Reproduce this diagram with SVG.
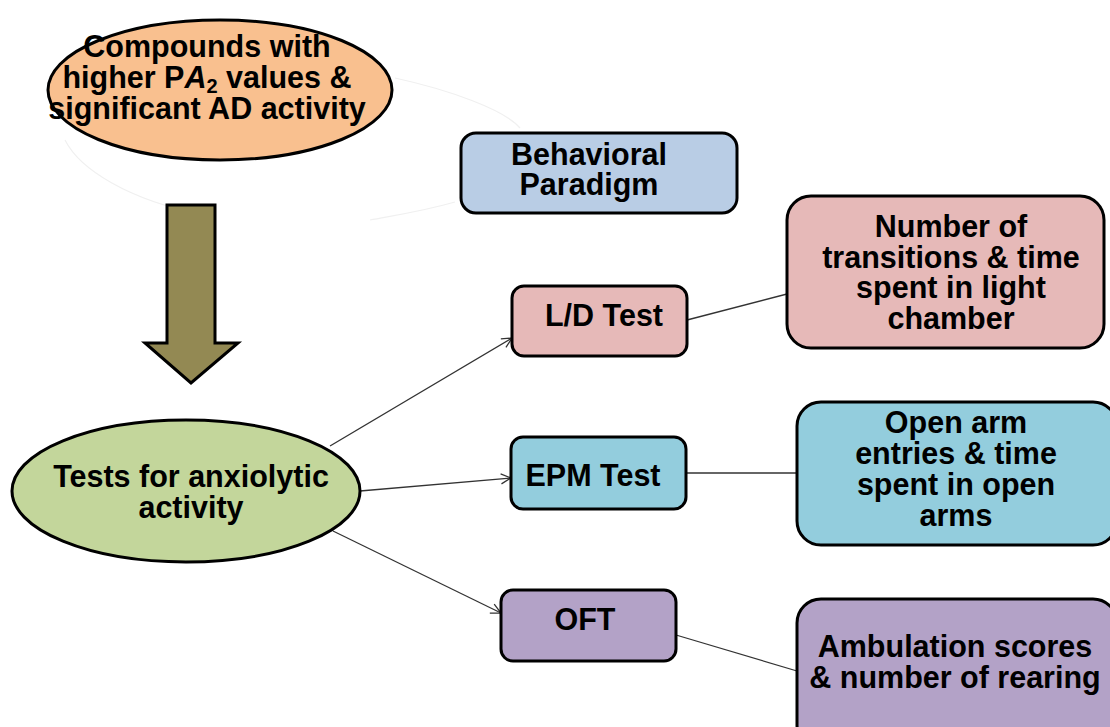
<svg xmlns="http://www.w3.org/2000/svg" width="1110" height="727" viewBox="0 0 1110 727">
  <style>
    .lbl { font-family: "Liberation Sans", Arial, sans-serif; font-weight: bold; font-size: 30.5px; fill: #000; text-anchor: middle; }
    .node { stroke: #000; stroke-width: 3; }
    .conn { stroke: #333; stroke-width: 1.3; fill: none; }
  </style>
  <defs>
    <marker id="open-arrow" viewBox="0 0 12 12" refX="11" refY="6" markerWidth="12" markerHeight="12" markerUnits="userSpaceOnUse" orient="auto">
      <path d="M1,1 L11,6 L1,11" fill="none" stroke="#333" stroke-width="1.3"/>
    </marker>
  </defs>

  <rect width="1110" height="727" fill="#fff"/>

  <!-- faint background outline -->
  <path d="M395,78 C450,90 505,110 520,128 M455,202 C420,212 390,216 370,220 M65,140 C80,170 130,200 200,214" fill="none" stroke="#f0f0f0" stroke-width="1.2"/>

  <!-- connectors -->
  <g id="connectors">
    <line class="conn" x1="330" y1="446" x2="512" y2="338" marker-end="url(#open-arrow)"/>
    <line class="conn" x1="360" y1="491" x2="511" y2="478" marker-end="url(#open-arrow)"/>
    <line class="conn" x1="333" y1="531" x2="501" y2="613" marker-end="url(#open-arrow)"/>
    <line class="conn" x1="687" y1="320" x2="787" y2="294"/>
    <line class="conn" x1="686" y1="473" x2="797" y2="473"/>
    <line class="conn" x1="676" y1="635" x2="797" y2="671"/>
  </g>

  <!-- downward block arrow -->
  <g id="flow-arrow">
    <path d="M167,205 L215,205 L215,343 L238,343 L191,383 L145,343 L167,343 Z" fill="#938953" stroke="#000" stroke-width="3" stroke-linejoin="miter"/>
  </g>

  <g id="compounds">
    <ellipse class="node" cx="220" cy="90" rx="172" ry="70" fill="#F9C08F"/>
    <text class="lbl" x="207" y="57">Compounds with</text>
    <text class="lbl" x="207" y="88">higher P<tspan font-style="italic">A</tspan><tspan font-size="20" dy="5">2</tspan><tspan dy="-5"> values &amp;</tspan></text>
    <text class="lbl" x="207" y="119">significant AD activity</text>
  </g>

  <g id="behavioral-paradigm">
    <rect class="node" x="461" y="133" width="276" height="80" rx="15" fill="#B9CDE5"/>
    <text class="lbl" x="589" y="165">Behavioral</text>
    <text class="lbl" x="589" y="195">Paradigm</text>
  </g>

  <g id="anxiolytic-tests">
    <ellipse class="node" cx="186" cy="491" rx="174" ry="71" fill="#C3D69B"/>
    <text class="lbl" x="191" y="487">Tests for anxiolytic</text>
    <text class="lbl" x="191" y="518">activity</text>
  </g>

  <g id="ld-test">
    <rect class="node" x="512" y="286" width="175" height="70" rx="12" fill="#E6B9B8"/>
    <text class="lbl" x="604" y="326">L/D Test</text>
  </g>

  <g id="ld-measure">
    <rect class="node" x="787" y="196" width="317" height="152" rx="24" fill="#E6B9B8"/>
    <text class="lbl" x="951" y="237">Number of</text>
    <text class="lbl" x="951" y="268">transitions &amp; time</text>
    <text class="lbl" x="951" y="298">spent in light</text>
    <text class="lbl" x="951" y="329">chamber</text>
  </g>

  <g id="epm-test">
    <rect class="node" x="511" y="437" width="175" height="72" rx="12" fill="#93CDDD"/>
    <text class="lbl" x="593" y="486">EPM Test</text>
  </g>

  <g id="epm-measure">
    <rect class="node" x="797" y="402" width="320" height="143" rx="24" fill="#93CDDD"/>
    <text class="lbl" x="956" y="433">Open arm</text>
    <text class="lbl" x="956" y="464">entries &amp; time</text>
    <text class="lbl" x="956" y="495">spent in open</text>
    <text class="lbl" x="956" y="526">arms</text>
  </g>

  <g id="oft">
    <rect class="node" x="501" y="590" width="175" height="71" rx="12" fill="#B3A2C7"/>
    <text class="lbl" x="585" y="630">OFT</text>
  </g>

  <g id="oft-measure">
    <rect class="node" x="797" y="599" width="320" height="150" rx="24" fill="#B3A2C7"/>
    <text class="lbl" x="955" y="657">Ambulation scores</text>
    <text class="lbl" x="955" y="688">&amp; number of rearing</text>
  </g>
</svg>
